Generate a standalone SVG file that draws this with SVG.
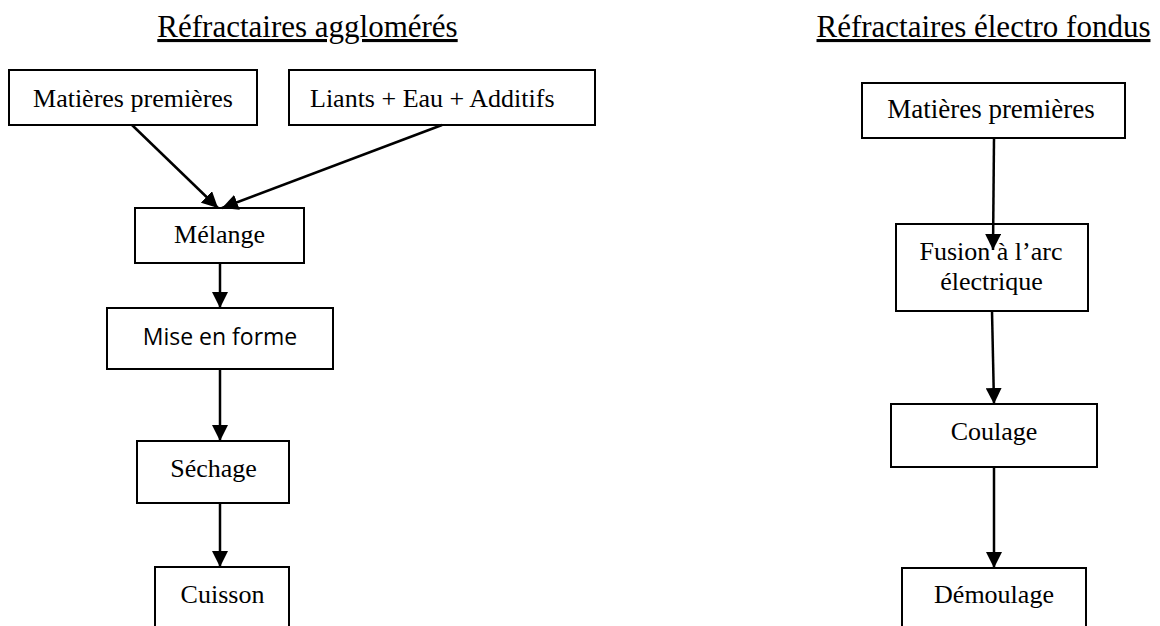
<svg xmlns="http://www.w3.org/2000/svg" width="1160" height="626" viewBox="0 0 1160 626">
<defs>
<style>
.box{fill:#fff;stroke:#000;stroke-width:2}
.t{font-family:"Liberation Serif","Times New Roman",serif;font-size:26px;fill:#000;text-anchor:middle}
.s{font-family:"Open Sans","Liberation Sans",sans-serif;font-size:23px;fill:#000;text-anchor:middle}
.title{font-family:"Liberation Serif","Times New Roman",serif;font-size:31px;fill:#000;text-anchor:middle;text-decoration:underline}
.c{stroke:#000;stroke-width:2.5;fill:none;marker-end:url(#ah)}
</style>
<marker id="ah" markerUnits="userSpaceOnUse" markerWidth="16" markerHeight="16" viewBox="0 0 16 16" refX="16" refY="8" orient="auto">
<path d="M0,0 L16,8 L0,16 z" fill="#000"/>
</marker>
</defs>
<rect width="1160" height="626" fill="#fff"/>
<text class="title" x="307.5" y="37">Réfractaires agglomérés</text>
<text class="title" x="983.5" y="37">Réfractaires électro fondus</text>

<g id="n-matieres-l"><rect class="box" x="9" y="70" width="248" height="55"/><text class="t" x="133" y="107">Matières premières</text></g>
<g id="n-liants"><rect class="box" x="289" y="70" width="306" height="55"/><text class="t" x="310" y="107" style="text-anchor:start">Liants + Eau + Additifs</text></g>
<g id="n-melange"><rect class="box" x="135" y="208" width="169" height="55"/><text class="t" x="219.5" y="243">Mélange</text></g>
<g id="n-mise"><rect class="box" x="107" y="308" width="226" height="61"/><text class="s" x="220" y="345">Mise en forme</text></g>
<g id="n-sechage"><rect class="box" x="137" y="441" width="152" height="62"/><text class="t" x="213.5" y="477">Séchage</text></g>
<g id="n-cuisson"><rect class="box" x="155" y="567" width="134" height="80"/><text class="t" x="222.5" y="603">Cuisson</text></g>

<g id="n-matieres-r"><rect class="box" x="862" y="83" width="263" height="55"/><text class="t" x="991" y="118" style="font-size:27px">Matières premières</text></g>
<g id="n-fusion"><rect class="box" x="896" y="224" width="192" height="87"/><text class="t" x="991" y="260">Fusion à l’arc</text><text class="t" x="991.5" y="290">électrique</text></g>
<g id="n-coulage"><rect class="box" x="891" y="404" width="206" height="63"/><text class="t" x="994" y="440">Coulage</text></g>
<g id="n-demoulage"><rect class="box" x="902" y="568" width="184" height="80"/><text class="t" x="994" y="603">Démoulage</text></g>

<g id="connectors">
<line class="c" x1="132" y1="125" x2="218" y2="208"/>
<line class="c" x1="442" y1="125" x2="222" y2="208"/>
<line class="c" x1="220" y1="263" x2="220" y2="308"/>
<line class="c" x1="220" y1="369" x2="220" y2="441"/>
<line class="c" x1="220" y1="503" x2="220" y2="567"/>
<line class="c" x1="994" y1="138" x2="993" y2="250"/>
<line class="c" x1="992" y1="311" x2="994" y2="404"/>
<line class="c" x1="994" y1="467" x2="994" y2="568"/>
</g>
</svg>
